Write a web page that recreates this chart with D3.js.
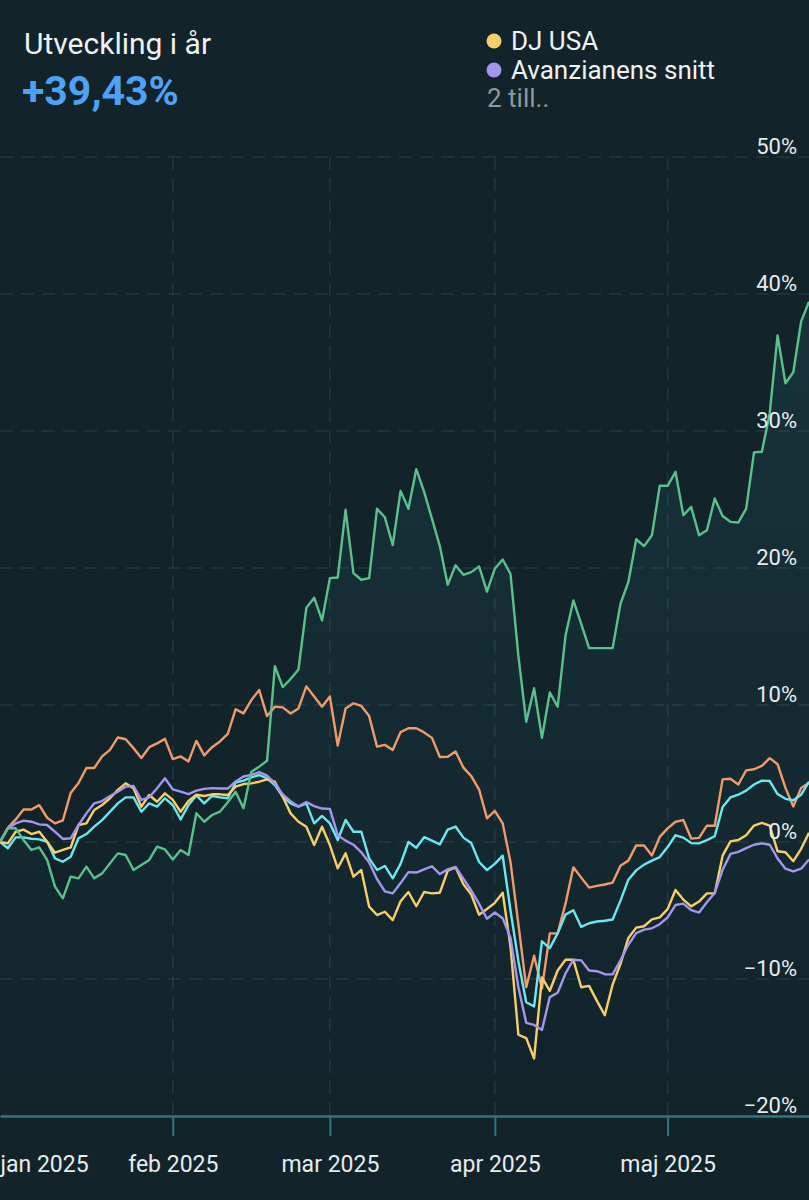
<!DOCTYPE html>
<html>
<head>
<meta charset="utf-8">
<script src="https://cdn.jsdelivr.net/npm/d3@7"></script>
<style>
  html, body { margin: 0; padding: 0; background: #12232a; }
  svg { display: block; font-family: Roboto, "Noto Sans", sans-serif; }
</style>
</head>
<body>
<div id="chart"></div>
<script>
// trading days per month (first point is the 2024-12-31 base)
const baseDay = "2024-12-31";
const janDays = [2, 3, 7, 8, 9, 10, 13, 14, 15, 16, 17, 20, 21, 22, 23, 24, 27, 28, 29, 30, 31];
const febDays = [3, 4, 5, 6, 7, 10, 11, 12, 13, 14, 17, 18, 19, 20, 21, 24, 25, 26, 27, 28];
const marDays = [3, 4, 5, 6, 7, 10, 11, 12, 13, 14, 17, 18, 19, 20, 21, 24, 25, 26, 27, 28, 31];
const aprDays = [1, 2, 3, 4, 7, 8, 9, 10, 11, 14, 15, 16, 17, 18, 21, 22, 23, 24, 25, 28, 29, 30];
const majDays = [1, 2, 5, 6, 7, 8, 9, 12, 13, 14, 15, 16, 19, 20, 21, 22, 23, 26, 27];
const monthLabels = ["jan 2025", "feb 2025", "mar 2025", "apr 2025", "maj 2025"];
const yTicks = [-20, -10, 0, 10, 20, 30, 40, 50];

// development in percent since the base day
const portfolio = [0, 1.0, 1.0, 0.15, -0.58, -0.39, -1.31, -3.26, -4.11, -2.53,
  -2.65, -1.8, -2.65, -2.29, -1.56, -0.83, -0.95, -2.04, -1.68, -1.31,
  -0.34, -0.54, -1.27, -0.58, -0.95, 2.1, 1.48, 1.97, 2.21, 2.9,
  3.67, 2.46, 5.13, 5.5, 5.93, 12.84, 11.31, 11.9, 12.59, 17.09,
  17.83, 16.17, 19.26, 19.31, 24.25, 19.63, 19.14, 19.26, 24.32, 23.7,
  21.68, 25.63, 24.32, 27.21, 25.56, 23.58, 21.6, 18.77, 20.2, 19.5,
  19.7, 20.12, 18.27, 19.95, 20.62, 19.56, 13.58, 8.77, 11.23, 7.6,
  10.91, 9.88, 15.07, 17.63, 15.93, 14.15, 14.15, 14.15, 14.15, 17.39,
  18.98, 22.1, 21.6, 22.39, 26.0, 26.0, 27.02, 23.85, 24.46, 22.39,
  22.76, 25.07, 23.8, 23.37, 23.32, 24.34, 28.44, 28.49, 31.3, 36.98,
  33.49, 34.29, 38.0, 39.43];

const djUsa = [0, -0.1, 0.75, 0.9, 0.58, 0.75, 0.02, -0.78, -0.58, -0.4,
  1.24, 1.36, 2.34, 2.7, 3.19, 3.8, 4.28, 3.92, 2.58, 3.43,
  2.94, 3.55, 3.07, 2.21, 3.0, 3.45, 3.36, 3.48, 3.48, 3.43,
  4.04, 4.23, 4.28, 4.4, 4.57, 4.4, 3.31, 2.09, 1.48, 1.12,
  -0.22, 1.12, -0.22, -1.92, -0.83, -2.53, -2.04, -4.72, -5.33, -5.09,
  -5.7, -4.32, -3.65, -4.69, -3.65, -3.75, -3.7, -2.1, -1.85, -3.09,
  -3.83, -5.31, -4.89, -4.44, -3.7, -7.65, -14.07, -14.32, -15.8, -9.88,
  -10.86, -9.38, -8.6, -8.6, -10.6, -10.5, -11.6, -12.64, -10.4, -8.9,
  -7.0, -6.25, -6.15, -5.65, -5.5, -4.9, -3.5, -4.2, -4.7, -4.35,
  -3.75, -3.75, -1.0, 0.05, 0.15, 0.5, 1.2, 1.4, 1.2, -0.68,
  -0.75, -1.4, -0.5, 0.68];

const avanzianensSnitt = [0, 1.0, 1.36, 1.56, 1.48, 1.29, 1.24, 0.75, 0.22, 0.27,
  1.24, 2.09, 2.82, 2.99, 3.36, 3.67, 4.04, 4.09, 3.07, 3.26,
  3.92, 4.65, 3.84, 3.67, 3.5, 3.75, 3.88, 3.93, 3.9, 3.9,
  4.42, 4.78, 4.9, 5.1, 4.85, 4.27, 3.47, 2.98, 2.6, 2.92,
  2.62, 2.44, 2.42, 0.5, 0.1, -0.2, -0.75, -1.5, -2.7, -3.6,
  -3.75, -3.0, -2.2, -2.23, -2.0, -1.77, -2.34, -2.0, -1.82, -2.68,
  -3.54, -4.52, -5.6, -5.15, -5.56, -7.0, -10.6, -13.2, -13.35, -13.72,
  -11.32, -11.0, -9.6, -8.59, -8.64, -9.38, -9.43, -9.65, -9.66, -8.63,
  -7.5, -6.65, -6.4, -6.3, -6.0, -5.5, -4.6, -4.5, -4.97, -5.15,
  -4.4, -3.72, -2.03, -0.87, -0.72, -0.45, -0.2, -0.1, -0.2, -1.2,
  -1.95, -2.15, -1.95, -1.27];

const extraCyan = [0, -0.46, 0.34, 0.34, 0.24, 0.19, 0.02, -1.19, -1.44, -1.07,
  0.27, 0.58, 1.12, 1.6, 2.21, 2.82, 3.26, 3.26, 2.21, 2.82,
  2.58, 3.19, 2.7, 1.65, 2.7, 3.4, 2.82, 3.36, 3.26, 3.19,
  4.33, 4.48, 4.72, 4.89, 4.65, 4.16, 3.31, 2.82, 2.58, 2.82,
  1.36, 1.9, 1.36, 0.15, 1.61, 0.75, 0.75, -1.19, -2.04, -1.75,
  -2.65, -1.6, 0.0, -0.42, 0.35, 0.1, -0.17, 0.9, 1.13, 0.32,
  -0.08, -1.46, -2.05, -1.6, -1.0, -5.0, -8.7, -11.7, -12.0, -7.25,
  -7.75, -6.67, -5.3, -4.98, -6.2, -5.93, -5.8, -5.75, -5.66, -4.28,
  -2.75, -2.07, -1.65, -1.36, -1.1, -0.37, 0.49, 0.32, -0.08, -0.1,
  0.14, 0.42, 2.55, 3.25, 3.45, 3.75, 4.2, 4.48, 4.45, 3.5,
  3.15, 3.05, 3.45, 4.4];

const extraOrange = [0, 1.04, 1.65, 2.37, 2.37, 2.69, 1.77, 1.36, 1.57, 3.58,
  4.31, 5.4, 5.4, 6.25, 6.73, 7.63, 7.5, 6.85, 6.13, 6.92,
  7.2, 7.53, 6.05, 6.25, 5.88, 7.38, 6.32, 6.92, 7.34, 7.89,
  9.69, 9.39, 10.36, 11.09, 9.19, 9.88, 9.83, 9.38, 9.75, 11.36,
  10.62, 9.88, 10.62, 7.04, 9.75, 10.12, 9.93, 9.19, 6.96, 7.09,
  6.72, 8.02, 8.3, 8.3, 8.0, 7.6, 6.2, 6.22, 6.6, 5.43,
  4.81, 3.83, 1.73, 2.27, 1.36, -1.48, -6.0, -10.6, -8.3, -10.7,
  -6.67, -6.67, -4.5, -1.85, -2.6, -3.33, -3.2, -3.1, -2.96, -1.73,
  -1.36, -0.25, -0.25, -0.99, 0.37, 0.99, 1.48, 1.6, 0.25, 0.3,
  1.19, 1.19, 4.57, 4.62, 4.2, 5.23, 5.31, 5.56, 6.12, 5.68,
  3.95, 2.59, 3.95, 4.32];

const WIDTH = 809, HEIGHT = 1200;
const AXIS_Y = 1116, TOP_Y = 157;

const pad = d => (d < 10 ? "0" : "") + d;
const dates = [baseDay]
  .concat(janDays.map(d => "2025-01-" + pad(d)))
  .concat(febDays.map(d => "2025-02-" + pad(d)))
  .concat(marDays.map(d => "2025-03-" + pad(d)))
  .concat(aprDays.map(d => "2025-04-" + pad(d)))
  .concat(majDays.map(d => "2025-05-" + pad(d)));

// first trading day of each month, used for ticks
const monthStarts = [janDays, febDays, marDays, aprDays, majDays]
  .map((days, m) => "2025-" + pad(m + 1) + "-" + pad(days[0]));

const svg = d3.select("#chart").append("svg")
  .attr("width", WIDTH)
  .attr("height", HEIGHT);

svg.append("rect").attr("width", WIDTH).attr("height", HEIGHT).attr("fill", "#12232a");

const x = d3.scalePoint().domain(dates).range([0, WIDTH]);
const y = d3.scaleLinear().domain([-20, 50]).range([AXIS_Y, TOP_Y]);

// soft glow under the main series
const defs = svg.append("defs");
const grad = defs.append("linearGradient")
  .attr("id", "glow").attr("x1", 0).attr("y1", 0).attr("x2", 0).attr("y2", 1);
grad.append("stop").attr("offset", "0%").attr("stop-color", "#3a98a8").attr("stop-opacity", 0.13);
grad.append("stop").attr("offset", "100%").attr("stop-color", "#3a98a8").attr("stop-opacity", 0);

// gridlines
const grid = svg.append("g");
grid.selectAll(".hgrid")
  .data(yTicks.filter(t => t > -20))
  .join("line")
  .attr("x1", 0).attr("x2", WIDTH)
  .attr("y1", d => y(d)).attr("y2", d => y(d))
  .attr("stroke", "#23383e")
  .attr("stroke-width", 1.5)
  .attr("stroke-dasharray", "13 8");

grid.selectAll(".vgrid")
  .data(monthStarts.slice(1))
  .join("line")
  .attr("x1", d => x(d)).attr("x2", d => x(d))
  .attr("y1", TOP_Y).attr("y2", AXIS_Y)
  .attr("stroke", "#23383e")
  .attr("stroke-width", 1.5)
  .attr("stroke-dasharray", "13 8");

const area = d3.area()
  .x((d, i) => x(dates[i]))
  .y0(AXIS_Y)
  .y1(d => y(d));

svg.append("path")
  .datum(portfolio)
  .attr("d", area)
  .attr("fill", "url(#glow)");

// x axis
const xAxis = svg.append("g")
  .attr("transform", "translate(0," + AXIS_Y + ")")
  .call(d3.axisBottom(x)
    .tickValues(monthStarts)
    .tickSize(20)
    .tickSizeOuter(0)
    .tickFormat((d, i) => monthLabels[i]));

xAxis.select(".domain").attr("stroke", "#2f7680").attr("stroke-width", 2.5);
xAxis.selectAll(".tick line").attr("stroke", "#2f7680").attr("stroke-width", 2);
xAxis.selectAll(".tick text")
  .attr("y", 40)
  .attr("fill", "#e6ecee")
  .style("font-size", "23px")
  .style("font-family", "Roboto, sans-serif");

// the january label sits at the left edge without a tick
const janTick = xAxis.select(".tick");
janTick.select("line").remove();
janTick.select("text").attr("text-anchor", "start").attr("x", -x(monthStarts[0]));

// lines
const line = d3.line()
  .x((d, i) => x(dates[i]))
  .y(d => y(d));

const seriesList = [
  { values: extraOrange, color: "#ef9b6b" },
  { values: extraCyan, color: "#6ee6ee" },
  { values: djUsa, color: "#f6cf6a" },
  { values: avanzianensSnitt, color: "#a495ee" },
  { values: portfolio, color: "#5cc08b" }
];

svg.append("g").selectAll("path")
  .data(seriesList)
  .join("path")
  .attr("d", d => line(d.values))
  .attr("fill", "none")
  .attr("stroke", d => d.color)
  .attr("stroke-width", 2.4)
  .attr("stroke-linejoin", "round");

// y labels on the right, above their gridline
svg.append("g").selectAll("text")
  .data(yTicks)
  .join("text")
  .attr("x", 797)
  .attr("y", d => y(d) - 3)
  .attr("text-anchor", "end")
  .attr("fill", "#e6ecee")
  .style("font-size", "22px")
  .text(d => (d < 0 ? "\u2212" + Math.abs(d) : d) + "%");

// header
svg.append("text")
  .attr("x", 24).attr("y", 54)
  .attr("fill", "#eef2f3")
  .style("font-size", "30px")
  .text("Utveckling i år");

svg.append("text")
  .attr("x", 22).attr("y", 105)
  .attr("fill", "#4da2f4")
  .style("font-size", "41px")
  .style("font-weight", "bold")
  .text("+39,43%");

// legend
const legendItems = [
  { label: "DJ USA", color: "#f6cf6a", cy: 41, ty: 50 },
  { label: "Avanzianens snitt", color: "#a495ee", cy: 70, ty: 79 }
];
const legend = svg.append("g");
legend.selectAll("circle")
  .data(legendItems)
  .join("circle")
  .attr("cx", 494).attr("cy", d => d.cy).attr("r", 7.5)
  .attr("fill", d => d.color);
legend.selectAll("text")
  .data(legendItems)
  .join("text")
  .attr("x", 511).attr("y", d => d.ty)
  .attr("fill", "#eef2f3")
  .style("font-size", "26px")
  .text(d => d.label);

svg.append("text")
  .attr("x", 487).attr("y", 107)
  .attr("fill", "#8e999c")
  .style("font-size", "26px")
  .text("2 till..");
</script>
</body>
</html>
